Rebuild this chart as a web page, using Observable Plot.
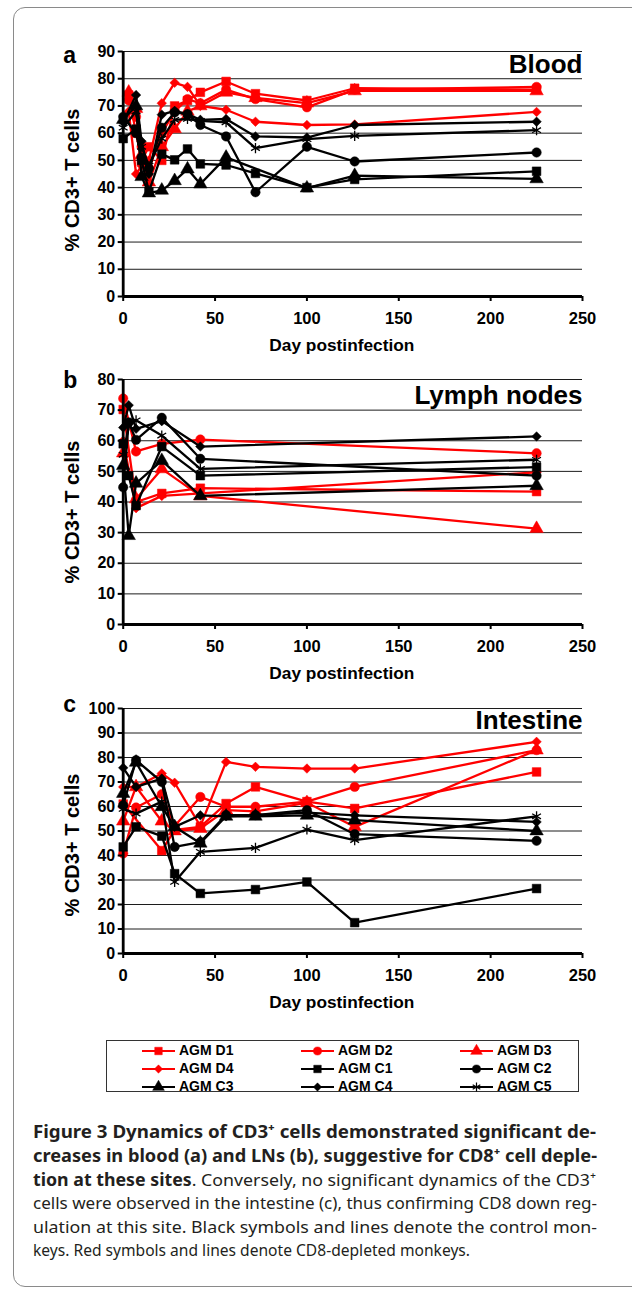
<!DOCTYPE html>
<html><head><meta charset="utf-8">
<script src="https://cdn.jsdelivr.net/npm/d3@7"></script>
<script src="https://cdn.jsdelivr.net/npm/@observablehq/plot@0.6"></script>
<style>
html,body{margin:0;padding:0;background:#fff;}
#fig{position:relative;width:632px;height:1291px;overflow:hidden;font-family:"Liberation Sans",Arial,sans-serif;}
.frame{position:absolute;left:13px;top:7px;width:700px;height:1278px;border:1.3px solid #8a8a8a;border-radius:12px;}
.panel{position:absolute;left:0;}
#legend{position:absolute;left:106px;top:1040px;width:473px;height:52px;border:1.3px solid #333;box-sizing:border-box;}
.lg{position:absolute;font:bold 14px "Liberation Sans",Arial,sans-serif;white-space:nowrap;}
#cap{position:absolute;left:0;top:0;}
</style>
</head><body><div id="fig"><div class="frame"></div></div>
<script>
// ---- series definitions ----
const seriesNames = ["AGM D1","AGM D2","AGM D3","AGM D4","AGM C1","AGM C2","AGM C3","AGM C4","AGM C5"];
const seriesColors = ["#ff0000","#ff0000","#ff0000","#ff0000","#000000","#000000","#000000","#000000","#000000"];
const seriesSymbols = ["square","circle","triangle","diamond2","square","circle","triangle","diamond2","asterisk"];
const xTicks = [0, 50, 100, 150, 200, 250];

// ---- (a) Blood ----
const bloodDays = [0, 3, 7, 10, 14, 21, 28, 35, 42, 56, 72, 100, 126, 225];
const bloodD1 = [null, 74, 60, 50, 55, 50, 70, 72, 75, 79, 74.5, 72, 76.5, 76];
const bloodD2 = [null, 72, 66, 55, 47, 60, 68, 72.5, 71, 76, 72.5, 69.5, 76, 77];
const bloodD3 = [null, 75, 69, 52, 42, 55, 61.6, 68, 70, 75, 73, 71, 75.5, 75.5];
const bloodD4 = [null, 68, 45, 48, 50, 71, 78.5, 77, 70, 68.6, 64.2, 63, 63.2, 67.8];
const bloodC1 = [58, null, 61.5, 50, 38.5, 52.3, 50.2, 54.2, 48.7, 48.3, 45.2, 40, 43, 46];
const bloodC2 = [66, null, 60, 51, 47, 62, 67.6, 67, 63, 58.8, 38.3, 55, 49.6, 52.9];
const bloodC3 = [65, null, 70, 44, 38, 39, 42.5, 46.8, 41.3, 51.1, null, 39.8, 44.4, 43.2];
const bloodC4 = [64, null, 74, 57, 45, 66.8, 68.2, 67, 64.9, 65.2, 58.8, 58.4, 63, 64.2];
const bloodC5 = [62, null, 68, 55, 48, 58, 64.9, 65.2, 64.5, 64, 54.5, 57.8, 59, 61.1];

// ---- (b) Lymph nodes ----
const lnDays = [0, 3, 7, 21, 42, 225];
const lnD1 = [70.2, null, 40, 42.8, 44.5, 43.4];
const lnD2 = [73.8, null, 56.5, 59, 60.4, 55.9];
const lnD3 = [56, null, 41, 50.8, 42, 31.3];
const lnD4 = [60, null, 38, 42, null, 49.7];
const lnC1 = [59, 48.6, 38.8, 58.1, 48.6, 51.4];
const lnC2 = [44.8, 66, 60.3, 67.5, 54.1, 48.6];
const lnC3 = [51.9, 29, 46.1, 53.5, 42, 45.3];
const lnC4 = [64.3, 71.6, 63.9, 66.4, 58.1, 61.4];
const lnC5 = [55.4, 65, 66.7, 61.7, 50.8, 53.8];

// ---- (c) Intestine ----
const intDays = [0, 7, 21, 28, 42, 56, 72, 100, 126, 225];
const intD1 = [61, null, 42, 50.5, 51.7, 61.2, 68, 62, 59.2, 74.1];
const intD2 = [40.8, 59.6, 65, 52, 63.9, 59.9, 59.9, 62, 68, 83];
const intD3 = [54, 68, 54, 50, 51, 58.5, 58, 61.5, 51.7, 83];
const intD4 = [68, 68, 73.5, 69.7, 52, 78.2, 76.2, 75.5, 75.5, 86.4];
const intC1 = [43.5, 51.7, 47.9, 32.6, 24.5, null, 26.1, 29.2, 12.6, 26.5];
const intC2 = [60.5, 78.9, 70, 43.5, 45.5, 56.5, 56.5, 58.5, 48.7, 46];
const intC3 = [65.3, 78, 59.9, 51.7, 45, 56, 56, 56.4, 54.4, 50];
const intC4 = [75.8, 68, 71.4, 51.7, 56.4, 56, 56.5, 57.5, 56.4, 53.7];
const intC5 = [59, 57.1, 62, 29.2, 41.5, null, 43.1, 50.6, 46.3, 56];

const yLabel = "% CD3+ T cells";
const xLabel = "Day postinfection";

const captionLines = [
  [["Figure 3 Dynamics of CD3\u207A cells demonstrated significant de-", true]],
  [["creases in blood (a) and LNs (b), suggestive for CD8\u207A cell deple-", true]],
  [["tion at these sites", true], [". Conversely, no significant dynamics of the CD3\u207A", false]],
  [["cells were observed in the intestine (c), thus confirming CD8 down reg-", false]],
  [["ulation at this site. Black symbols and lines denote the control mon-", false]],
  [["keys. Red symbols and lines denote CD8-depleted monkeys.", false]]
];

const symbolR = {square: 4.9, circle: 4.7, triangle: 5.0, diamond2: 4.3, asterisk: 4.8};

function makePanel({days, values, yMax, letter, letterDy, title, titleDy, labelDy, svgTop}) {
  const marks = [];
  const yTicks = d3.range(0, yMax + 1, 10);
  marks.push(Plot.ruleY(yTicks.filter(t => t > 0), {stroke: "#1c1c1c", strokeWidth: 1}));
  values.forEach((vals, i) => {
    const rows = [];
    vals.forEach((v, j) => { if (v != null) rows.push({day: days[j], value: v}); });
    const sym = seriesSymbols[i];
    marks.push(Plot.line(rows, {x: "day", y: "value", stroke: seriesColors[i], strokeWidth: 2.3}));
    if (sym === "asterisk") {
      marks.push(Plot.dot(rows, {x: "day", y: "value", symbol: sym, r: symbolR[sym], fill: "none", stroke: seriesColors[i], strokeWidth: 1.3}));
    } else {
      marks.push(Plot.dot(rows, {x: "day", y: "value", symbol: sym, r: symbolR[sym], fill: seriesColors[i], stroke: seriesColors[i], strokeWidth: 0.5}));
    }
  });
  marks.push(Plot.ruleX([0], {stroke: "black", strokeWidth: 2.8}));
  marks.push(Plot.ruleY([0], {stroke: "black", strokeWidth: 2.8}));
  marks.push(Plot.axisY({ticks: yTicks, tickSize: 5, tickPadding: 3, strokeWidth: 2, fontWeight: "bold", fontSize: 16, label: null}));
  marks.push(Plot.axisX({ticks: xTicks, tickSize: 5, tickPadding: 11, strokeWidth: 2, fontWeight: "bold", fontSize: 16.5, label: null}));
  marks.push(Plot.text([yLabel], {text: d => d, frameAnchor: "left", textAnchor: "middle", lineAnchor: "middle", rotate: -90, dx: -51, dy: labelDy, fontSize: 20, fontWeight: "bold"}));
  marks.push(Plot.text([xLabel], {text: d => d, frameAnchor: "bottom", textAnchor: "middle", lineAnchor: "middle", dx: -11, dy: 49, fontSize: 17.3, fontWeight: "bold"}));
  marks.push(Plot.text([letter], {text: d => d, frameAnchor: "top-left", textAnchor: "start", lineAnchor: "middle", dx: -60, dy: letterDy, fontSize: 23, fontWeight: "bold"}));
  marks.push(Plot.text([title], {text: d => d, frameAnchor: "top-right", textAnchor: "end", lineAnchor: "middle", dy: titleDy, fontSize: 26, fontWeight: "bold"}));
  const svg = Plot.plot({
    width: 632, height: 360,
    marginTop: 50, marginBottom: 65, marginLeft: 122.7, marginRight: 50,
    x: {domain: [0, 250]},
    y: {domain: [0, yMax]},
    style: {background: "transparent", overflow: "visible", fontFamily: "'Liberation Sans', Arial, sans-serif", fontSize: "16px", color: "black"},
    marks
  });
  svg.classList.add("panel");
  svg.style.top = svgTop + "px";
  svg.style.position = "absolute";
  document.getElementById("fig").appendChild(svg);
}

makePanel({days: bloodDays, values: [bloodD1, bloodD2, bloodD3, bloodD4, bloodC1, bloodC2, bloodC3, bloodC4, bloodC5],
  yMax: 90, letter: "a", letterDy: 4, title: "Blood", titleDy: 13, labelDy: 6, svgTop: 0.7});
makePanel({days: lnDays, values: [lnD1, lnD2, lnD3, lnD4, lnC1, lnC2, lnC3, lnC4, lnC5],
  yMax: 80, letter: "b", letterDy: 1, title: "Lymph nodes", titleDy: 16, labelDy: 10, svgTop: 329.3});
makePanel({days: intDays, values: [intD1, intD2, intD3, intD4, intC1, intC2, intC3, intC4, intC5],
  yMax: 100, letter: "c", letterDy: -4, title: "Intestine", titleDy: 12, labelDy: 14, svgTop: 658.3});

// ---- legend ----
const fig = document.getElementById("fig");
const legend = document.createElement("div");
legend.id = "legend";
fig.appendChild(legend);
const colX = [35, 194, 353];   // relative offsets within legend box
const rowY = [10, 28, 45.5];
seriesNames.forEach((name, i) => {
  const c = i % 3, r = Math.floor(i / 3);
  const sym = seriesSymbols[i];
  const s = d3.create("svg").attr("width", 34).attr("height", 14)
    .style("position", "absolute").style("left", colX[c] + "px").style("top", (rowY[r] - 7) + "px");
  s.append("line").attr("x1", 0).attr("x2", 33).attr("y1", 7).attr("y2", 7).attr("stroke", seriesColors[i]).attr("stroke-width", 2.2);
  const sz = Math.PI * symbolR[sym] * symbolR[sym] * 0.75;
  const symType = {square: d3.symbolSquare, circle: d3.symbolCircle, triangle: d3.symbolTriangle, diamond2: d3.symbolDiamond2, asterisk: d3.symbolAsterisk}[sym];
  s.append("path").attr("transform", "translate(16.5,7)").attr("d", d3.symbol(symType, sz)())
    .attr("fill", sym === "asterisk" ? "none" : seriesColors[i]).attr("stroke", seriesColors[i]).attr("stroke-width", sym === "asterisk" ? 1.2 : 0.5);
  legend.appendChild(s.node());
  const t = document.createElement("div");
  t.className = "lg";
  t.textContent = name;
  t.style.left = (colX[c] + 37) + "px";
  t.style.top = (rowY[r] - 9) + "px";
  legend.appendChild(t);
});

// ---- caption ----
const cap = d3.create("svg").attr("id", "cap").attr("width", 632).attr("height", 1291);
const baseY = [1138, 1162, 1186, 1209, 1233, 1256];
const lens = [563, 564, 563, 564, 564, 437];
captionLines.forEach((segs, i) => {
  const t = cap.append("text").attr("x", 33).attr("y", baseY[i])
    .attr("font-family", "'Noto Sans', 'Open Sans', sans-serif").attr("font-size", 17).attr("fill", "#231f20")
    .attr("textLength", lens[i]).attr("lengthAdjust", "spacingAndGlyphs");
  segs.forEach(([txt, bold]) => {
    t.append("tspan").attr("font-weight", bold ? "bold" : "normal").text(txt);
  });
});
fig.appendChild(cap.node());
</script>
</body></html>
